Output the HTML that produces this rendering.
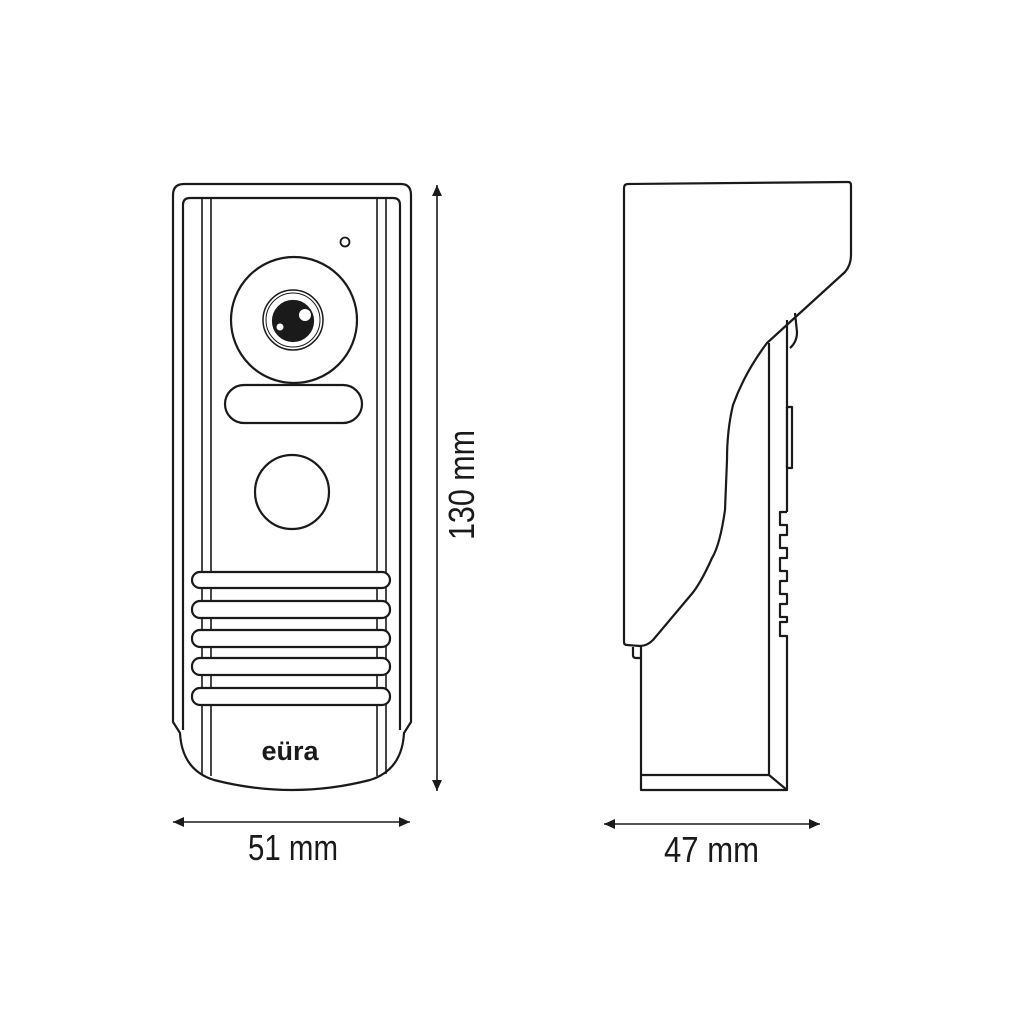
<!DOCTYPE html>
<html><head><meta charset="utf-8"><style>html,body{margin:0;padding:0;background:#fff}svg{display:block}</style></head>
<body>
<svg width="1024" height="1024" viewBox="0 0 1024 1024" xmlns="http://www.w3.org/2000/svg">
<defs>
<marker id="a" viewBox="0 0 10 10" refX="10" refY="5" markerWidth="11" markerHeight="11" orient="auto-start-reverse" markerUnits="userSpaceOnUse"><path d="M0,0.5 L10,5 L0,9.5 Z" fill="#1a1a1a"/></marker>
</defs>
<g fill="none" stroke="#1a1a1a" stroke-width="2.2" stroke-linejoin="round">
<path d="M173,195 Q173,184 184,184 L401,184 Q411,184 411,195 L411,722 L404,733 Q402,770 370,780 Q292,800 214,780 Q182,770 180,733 L173,722 Z"/>
<path d="M183,205 Q183,198 190,198 L393,198 Q400,198 400,205 L400,730 M183,205 L183,730"/>
<path d="M202,198 L202,774 M211,198 L211,776 M377,198 L377,776 M386,198 L386,774" stroke-width="1.6"/>
<circle cx="345" cy="242" r="4.5" stroke-width="1.8"/>
<circle cx="294" cy="320" r="63"/>
<circle cx="293" cy="320" r="30" stroke-width="1.5"/>
<circle cx="293" cy="320" r="27" stroke-width="1"/>
<circle cx="293" cy="321" r="20" fill="#1a1a1a"/>
<circle cx="305" cy="315" r="6" fill="#fff" stroke="none"/>
<circle cx="280" cy="327" r="3.5" fill="#fff" stroke="none"/>
<rect x="225" y="385" width="137" height="38" rx="19"/>
<circle cx="292" cy="492" r="37"/>
<g fill="#fff">
<rect x="192" y="572" width="198" height="16" rx="8"/>
<rect x="192" y="601" width="198" height="17" rx="8"/>
<rect x="192" y="630" width="198" height="17" rx="8"/>
<rect x="192" y="658" width="198" height="17" rx="8"/>
<rect x="192" y="688" width="198" height="17" rx="8"/>
</g>
<path d="M624,188 Q624,184 628,184 L848,182 Q851,182 851,185 L851,255 Q851,265 845,272 L767,343 Q745,372 733,405 Q727,430 727,460 L725,510 Q720,545 712,558 Q700,585 690,596 L653,640 Q647,646 640,646 L627,645 Q624,645 624,642 Z"/>
<path d="M633,647 L633,655 Q633,658 636,658 L641,658"/>
<path d="M641,645 L641,790 L787,790 L787,711"/>
<path d="M641,775 L769,775 L787,790"/>
<path d="M769,343 L769,775"/>
<path d="M787,320 L787,512"/>
<path d="M795,313 L797,332 Q797,342 790,348"/>
<rect x="787" y="407" width="5" height="61"/>
<path d="M787,512 L780,512 L780,525 L787,525 L787,535 L780,535 L780,548 L787,548 L787,558 L780,558 L780,571 L787,571 L787,581 L780,581 L780,594 L787,594 L787,604 L780,604 L780,617 L787,617 L787,622 L780,622 L780,636 L787,636 L787,711"/>
<g stroke-width="1.6">
<line x1="437" y1="185" x2="437" y2="791" marker-start="url(#a)" marker-end="url(#a)"/>
<line x1="173" y1="822" x2="410" y2="822" marker-start="url(#a)" marker-end="url(#a)"/>
<line x1="604" y1="824" x2="820" y2="824" marker-start="url(#a)" marker-end="url(#a)"/>
</g>
</g>
<text x="290" y="760" font-family="Liberation Sans, sans-serif" font-weight="bold" font-size="27" fill="#1a1a1a" text-anchor="middle">eüra</text>
<g font-family="Liberation Sans Narrow, Liberation Sans, sans-serif" font-size="36" fill="#1a1a1a">
<text x="248" y="860" textLength="90" lengthAdjust="spacingAndGlyphs">51 mm</text>
<text x="664" y="862" textLength="95" lengthAdjust="spacingAndGlyphs">47 mm</text>
<text transform="translate(474,540) rotate(-90)" textLength="110" lengthAdjust="spacingAndGlyphs">130 mm</text>
</g>
</svg>
</body></html>
